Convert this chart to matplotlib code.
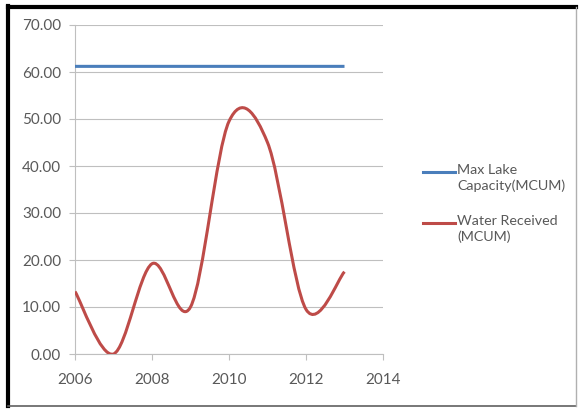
import matplotlib
matplotlib.use("Agg")
import matplotlib.pyplot as plt
from matplotlib.path import Path
from matplotlib.patches import PathPatch
from matplotlib.lines import Line2D
from matplotlib.ticker import FormatStrFormatter, MultipleLocator

years = [2006, 2007, 2008, 2009, 2010, 2011, 2012, 2013]
max_capacity = [61.2] * 8
water_received = [13.3, 0.0, 19.2, 10.0, 49.5, 45.0, 9.5, 17.5]
series_labels = ["Max Lake\nCapacity(MCUM)", "Water Received\n(MCUM)"]
colors = ["#4A7EBB", "#BE4B48"]

plt.rcParams['font.family'] = ['Lato', 'DejaVu Sans']

fig = plt.figure(figsize=(5.79, 4.09), dpi=100)
ax = fig.add_axes([75/579, 1-354/409, (383-75)/579, (354-25)/409])


def smooth_path(xs, ys):
    pts = list(zip(xs, ys))
    n = len(pts)
    verts = [pts[0]]
    codes = [Path.MOVETO]
    for i in range(n - 1):
        p0 = pts[i - 1] if i > 0 else pts[i]
        p1 = pts[i]
        p2 = pts[i + 1]
        p3 = pts[i + 2] if i + 2 < n else pts[i + 1]
        c1 = (p1[0] + (p2[0] - p0[0]) / 6, p1[1] + (p2[1] - p0[1]) / 6)
        c2 = (p2[0] - (p3[0] - p1[0]) / 6, p2[1] - (p3[1] - p1[1]) / 6)
        verts += [c1, c2, p2]
        codes += [Path.CURVE4] * 3
    return Path(verts, codes)


for ys, c in zip([max_capacity, water_received], colors):
    patch = PathPatch(smooth_path(years, ys), facecolor='none', edgecolor=c,
                      lw=2.2, capstyle='butt', joinstyle='round', zorder=3)
    ax.add_patch(patch)

ax.set_xlim(2006, 2014)
ax.set_ylim(0, 70)
ax.xaxis.set_major_locator(MultipleLocator(2))
ax.yaxis.set_major_locator(MultipleLocator(10))
ax.yaxis.set_major_formatter(FormatStrFormatter('%.2f'))
ax.grid(axis='y', color='#BFBFBF', lw=0.8)
ax.set_axisbelow(True)
for s in ['top', 'right']:
    ax.spines[s].set_visible(False)
for s in ['left', 'bottom']:
    ax.spines[s].set_color('#BFBFBF')
    ax.spines[s].set_linewidth(0.8)
ax.tick_params(axis='both', colors='#BFBFBF', labelcolor='#595959',
               labelsize=11, length=4, direction='out')
ax.tick_params(axis='x', pad=10)
ax.tick_params(axis='y', pad=6)

# legend
W, H = 579, 409
entries = [(172, series_labels[0], colors[0]), (223, series_labels[1], colors[1])]
for y, lab, c in entries:
    fig.add_artist(Line2D([423/W, 455/W], [1-y/H, 1-y/H], color=c, lw=2.2))
    fig.text(457/W, 1-(y-8)/H, lab, ha='left', va='top', fontsize=10.3,
             color='#595959', linespacing=1.3)

# outer frame
fig.add_artist(Line2D([8/W, 8/W], [1-6/H, 1-406/H], color='black', lw=3))
fig.add_artist(Line2D([8/W, 576/W], [1-7/H, 1-7/H], color='black', lw=3))
fig.add_artist(Line2D([8/W, 576/W], [1-406/H, 1-406/H], color='#606060', lw=1.2))
fig.add_artist(Line2D([576/W, 576/W], [1-7/H, 1-406/H], color='#B0B0B0', lw=1))

fig.savefig("out.png", dpi=100)
